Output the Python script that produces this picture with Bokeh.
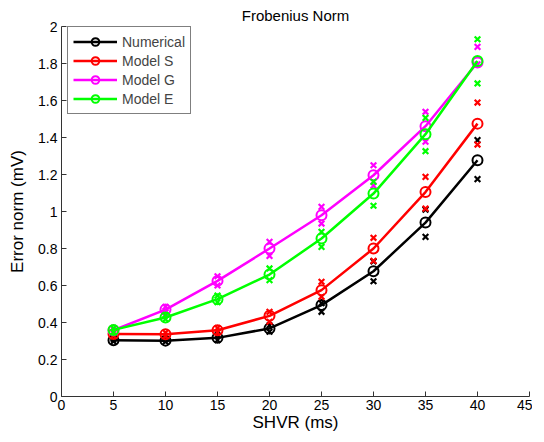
from bokeh.plotting import figure
from bokeh.models import Legend, LegendItem, FixedTicker, ColumnDataSource
from bokeh.embed import file_html
from bokeh.resources import INLINE

shvr = [5, 10, 15, 20, 25, 30, 35, 40]

numerical = [0.304, 0.302, 0.317, 0.368, 0.494, 0.677, 0.940, 1.277]
numerical_hi = [0.312, 0.310, 0.330, 0.385, 0.505, 0.730, 1.010, 1.386]
numerical_lo = [0.298, 0.296, 0.305, 0.350, 0.458, 0.623, 0.863, 1.175]

model_s = [0.338, 0.337, 0.358, 0.436, 0.575, 0.800, 1.105, 1.475]
model_s_hi = [0.346, 0.345, 0.370, 0.458, 0.620, 0.858, 1.187, 1.589]
model_s_lo = [0.328, 0.327, 0.345, 0.404, 0.539, 0.733, 1.016, 1.362]

model_g = [0.358, 0.470, 0.625, 0.800, 0.980, 1.196, 1.461, 1.805]
model_g_hi = [0.366, 0.485, 0.650, 0.836, 1.025, 1.250, 1.539, 1.890]
model_g_lo = [0.350, 0.455, 0.600, 0.760, 0.935, 1.140, 1.377, 1.795]

model_e = [0.360, 0.427, 0.526, 0.659, 0.854, 1.097, 1.418, 1.813]
model_e_hi = [0.370, 0.440, 0.545, 0.692, 0.890, 1.160, 1.506, 1.931]
model_e_lo = [0.348, 0.418, 0.510, 0.629, 0.809, 1.031, 1.326, 1.692]

names = ["Numerical", "Model S", "Model G", "Model E"]
colors = ["#000000", "#ff0000", "#ff00ff", "#00ff00"]
means = [numerical, model_s, model_g, model_e]
his = [numerical_hi, model_s_hi, model_g_hi, model_e_hi]
los = [numerical_lo, model_s_lo, model_g_lo, model_e_lo]

x_ticks = [0, 5, 10, 15, 20, 25, 30, 35, 40, 45]
y_ticks = [0, 0.2, 0.4, 0.6, 0.8, 1.0, 1.2, 1.4, 1.6, 1.8, 2.0]
y_tick_labels = ["0", "0.2", "0.4", "0.6", "0.8", "1", "1.2", "1.4", "1.6", "1.8", "2"]

FONT = "Liberation Sans"
FRAME_H = 370

p = figure(frame_width=468, frame_height=FRAME_H, x_range=(0, 45), y_range=(0, 2),
           output_backend="svg", toolbar_location=None,
           title="Frobenius Norm",
           min_border_left=61, min_border_right=3, min_border_top=26, min_border_bottom=37)

p.title.align = "center"
p.title.vertical_align = "top"
p.title.text_font = FONT
p.title.text_font_size = "15px"
p.title.text_font_style = "normal"
p.title.text_color = "#000000"
p.title.standoff = 2

p.xgrid.visible = False
p.ygrid.visible = False
p.outline_line_color = None

p.xaxis.ticker = FixedTicker(ticks=x_ticks)
p.yaxis.ticker = FixedTicker(ticks=y_ticks)
p.yaxis.major_label_overrides = {t: l for t, l in zip(y_ticks, y_tick_labels)}
p.xaxis.axis_label = "SHVR (ms)"
p.yaxis.axis_label = "Error norm (mV)"
for ax in (p.xaxis, p.yaxis):
    ax.axis_label_text_font = FONT
    ax.axis_label_text_font_size = "17px"
    ax.axis_label_text_font_style = "normal"
    ax.axis_label_text_color = "#000000"
    ax.major_label_text_font = FONT
    ax.major_label_text_font_size = "14px"
    ax.major_label_text_color = "#000000"
    ax.axis_line_color = "#333333"
    ax.major_tick_line_color = "#333333"
    ax.major_tick_in = 5
    ax.major_tick_out = 0
    ax.minor_tick_line_color = None
p.xaxis.major_label_standoff = 3
p.xaxis.axis_label_standoff = 0
p.yaxis.major_label_standoff = 4
p.yaxis.axis_label_standoff = 8

items = []
for name, col, m, hi, lo in zip(names, colors, means, his, los):
    src = ColumnDataSource(dict(x=shvr, y=m, hi=hi, lo=lo))
    ln = p.line("x", "y", source=src, line_color=col, line_width=2.5)
    cr = p.scatter("x", "y", source=src, marker="circle", size=10,
                   line_color=col, line_width=2, fill_alpha=0)
    p.scatter("x", "hi", source=src, marker="x", size=8, line_color=col, line_width=2.2)
    p.scatter("x", "lo", source=src, marker="x", size=8, line_color=col, line_width=2.2)
    items.append(LegendItem(label=name, renderers=[ln, cr]))

legend = Legend(items=items, location=(6, FRAME_H - 2 - 86))
legend.label_text_font = FONT
legend.label_text_font_size = "14px"
legend.glyph_width = 44
legend.glyph_height = 19
legend.label_height = 19
legend.spacing = 0
legend.padding = 5
legend.margin = 0
legend.label_standoff = 5
legend.border_line_color = "#000000"
legend.border_line_width = 1
legend.background_fill_color = "#ffffff"
legend.background_fill_alpha = 1
p.add_layout(legend)

open("out.html", "w").write(file_html(p, INLINE))
